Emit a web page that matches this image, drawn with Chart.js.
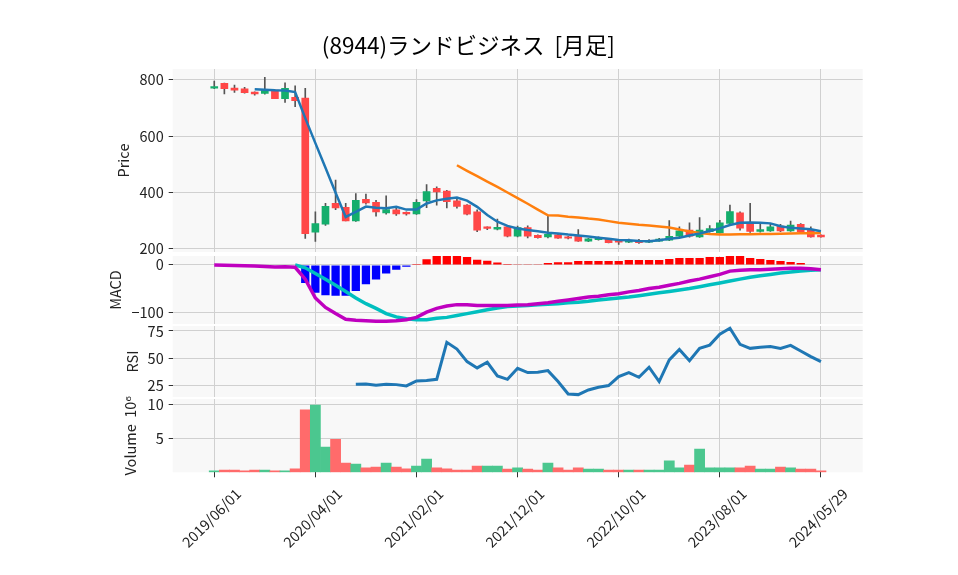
<!DOCTYPE html>
<html>
<head>
<meta charset="utf-8">
<script src="https://cdn.jsdelivr.net/npm/chart.js@4.4.1/dist/chart.umd.min.js"></script>
<style>
  body { margin: 0; background: #fff; }
  #wrap { position: relative; width: 958px; height: 575px; overflow: hidden; }
  canvas { position: absolute; left: 0; }
</style>
</head>
<body>
<div id="wrap">
  <canvas id="priceChart" width="958" height="262" style="top:0px"></canvas>
  <canvas id="macdChart" width="958" height="88" style="top:246px"></canvas>
  <canvas id="rsiChart" width="958" height="91" style="top:316px"></canvas>
  <canvas id="volumeChart" width="958" height="186" style="top:389px"></canvas>
</div>
<script>
const months = [
  '2019/06/01','2019/07/01','2019/08/01','2019/09/01','2019/10/01','2019/11/01','2019/12/01',
  '2020/01/01','2020/02/01','2020/03/01','2020/04/01','2020/05/01','2020/06/01','2020/07/01','2020/08/01','2020/09/01','2020/10/01','2020/11/01','2020/12/01',
  '2021/01/01','2021/02/01','2021/03/01','2021/04/01','2021/05/01','2021/06/01','2021/07/01','2021/08/01','2021/09/01','2021/10/01','2021/11/01','2021/12/01',
  '2022/01/01','2022/02/01','2022/03/01','2022/04/01','2022/05/01','2022/06/01','2022/07/01','2022/08/01','2022/09/01','2022/10/01','2022/11/01','2022/12/01',
  '2023/01/01','2023/02/01','2023/03/01','2023/04/01','2023/05/01','2023/06/01','2023/07/01','2023/08/01','2023/09/01','2023/10/01','2023/11/01','2023/12/01',
  '2024/01/01','2024/02/01','2024/03/01','2024/04/01','2024/05/01','2024/05/29'
];

const opens = [771,788,771,768,757,752,764,733,738,735,
  258,286,360,346,298,375,364,326,337,326,
  323,369,414,404,369,354,330,273,268,277,
  243,274,246,241,248,241,243,226,231,234,
  226,222,229,222,226,229,243,265,241,259,
  255,289,327,293,260,262,279,262,286,268,
  247];
const highs = [796,789,782,774,758,809,765,790,779,770,
  330,360,443,360,395,393,371,387,346,330,
  374,427,419,407,375,356,337,277,304,280,
  279,280,248,318,252,243,267,236,241,236,
  229,233,232,231,236,299,277,291,310,281,
  300,354,330,360,289,289,286,297,288,277,
  248];
const lows = [769,750,756,753,746,749,733,720,705,235,
  225,282,338,298,296,357,315,322,317,318,
  321,345,354,344,343,319,259,267,266,241,
  241,237,236,237,235,234,225,224,229,219,
  214,220,218,220,225,227,242,240,239,258,
  254,287,265,257,258,260,259,260,258,240,
  240];
const closes = [775,769,764,755,750,762,733,770,726,252,
  288,350,344,298,371,362,330,338,323,323,
  364,402,401,366,349,322,265,271,275,243,
  274,243,238,250,236,236,226,234,238,220,
  222,229,220,229,233,243,262,243,265,270,
  291,331,272,260,267,277,262,283,259,241,
  241];

const ma5 = [null,null,null,null,767,765,763,762,757,664,
  575,487,398,312,330,349,345,343,348,338,
  338,360,371,377,381,370,348,319,295,280,
  271,265,261,256,253,249,246,242,238,234,
  230,229,226,225,229,234,238,246,253,262,
  271,283,291,292,291,289,279,273,271,268,
  261];
const ma25 = [null,null,null,null,null,null,null,null,null,null,
  null,null,null,null,null,null,null,null,null,null,
  null,null,null,null,496,476,457,438,419,399,
  379,359,338,318,317,313,310,306,303,297,
  291,288,284,281,278,274,267,260,255,251,
  249,249,250,250,251,251,252,253,254,254,
  255];

const macdLine = [0,-0.5,-1,-1.5,-2,-3,-4.5,-4,-5,-30,
  -70,-90,-103,-115,-117,-118,-119,-119,-118,-116,
  -111,-100,-92,-87,-84,-84,-86,-86,-86,-86,
  -85,-84,-82,-80,-77,-74,-71,-68,-66,-63,
  -61,-57,-54,-50,-47,-43,-39,-34,-30,-25,
  -20,-13,-11,-10,-10,-9,-8,-7,-7,-8,
  -10];
const signalLine = [null,null,null,null,null,null,null,null,0,-6,
  -18,-30,-43,-56,-70,-82,-92,-103,-110,-114,
  -116,-116,-113,-111,-107,-103,-99,-95,-91,-88,
  -87,-86,-84,-83,-82,-80,-79,-77,-74,-72,
  -70,-68,-65,-62,-59,-56,-53,-50,-46,-42,
  -38,-34,-30,-26,-23,-20,-17,-15,-13,-11,
  -10];
const macdHist = [null,null,null,null,null,null,null,null,null,-38,
  -59,-64,-65,-65,-55,-41,-31,-18,-10,-4,
  2,12,19,21,19,17,11,9,5,2,
  1.5,1.5,1.5,4,6,6,8.5,8.5,8.5,8.5,
  8.5,10.5,10.5,10.5,10.5,12.5,15,15,15,17,
  17,21,19,15,12.5,10.5,8.5,6.5,4,1,
  0];

const rsi = [null,null,null,null,null,null,null,null,null,null,
  null,null,null,null,26,26.2,25,26,25.6,24.4,
  29,29.3,30.5,64.6,58.4,46.8,41,46.2,33.6,30.5,
  40.6,36.7,37,38.5,28.4,17,16.4,20.7,23.2,24.7,
  33,36.7,32.4,41.6,28.4,48.3,58,47.7,59,62,
  72,77.5,62.7,59,60,60.6,59,61.8,56.6,51.4,
  46.8];

// 出来高 (百万株)
const volume = [0.2,0.34,0.34,0.2,0.34,0.34,0.2,0.2,0.5,9.17,
  9.9,3.7,4.85,1.37,1.2,0.64,0.78,1.37,0.78,0.5,
  0.93,1.96,0.64,0.5,0.34,0.34,0.93,0.93,0.93,0.49,
  0.64,0.49,0.34,1.37,0.64,0.34,0.64,0.49,0.49,0.34,
  0.34,0.34,0.34,0.34,0.34,1.67,0.64,1.08,3.43,0.64,
  0.64,0.64,0.64,0.93,0.49,0.49,0.78,0.64,0.49,0.49,
  0.2];
const volumeUp = [1,0,0,0,0,1,0,1,0,0,
  1,1,0,0,1,0,0,1,0,0,
  1,1,0,0,0,0,0,1,1,0,
  1,0,0,1,0,0,0,1,1,0,
  0,1,0,1,1,1,1,0,1,1,
  1,1,0,0,1,1,0,1,0,0,
  0];

const xTicks = [0, 10, 20, 30, 40, 50, 60];
const priceTicks = [200, 400, 600, 800];
const macdTicks = [-100, 0];
const rsiTicks = [25, 50, 75];
const volumeTicks = [5, 10];

const FONT = "'Noto Sans CJK JP', 'DejaVu Sans', sans-serif";
const tickFont = { family: FONT, size: 14.5 };
const GRID = '#d0d0d0';
const TEXT = '#222';
const PLOT_LEFT = 172.7;
const X_MIN = -4.11, X_MAX = 64.13;
const UP = '#14ae6c', DOWN = '#ff4747';

Chart.defaults.font.family = FONT;
Chart.defaults.animation = false;

const plotBg = {
  id: 'plotBg',
  beforeDraw(chart) {
    const { ctx, chartArea: a } = chart;
    ctx.save();
    ctx.fillStyle = '#f8f8f8';
    ctx.fillRect(a.left, a.top, a.width, a.height);
    ctx.restore();
  }
};

function pts(arr) {
  const out = [];
  arr.forEach((v, i) => { if (v !== null) out.push({ x: i, y: v }); });
  return out;
}

function xAxis(showLabels) {
  return {
    type: 'linear', min: X_MIN, max: X_MAX, offset: false,
    afterBuildTicks: a => { a.ticks = xTicks.map(v => ({ value: v })); },
    afterFit: a => { a.height = showLabels ? 102.7 : 0; a.paddingLeft = 0; a.paddingRight = 0; },
    ticks: { display: showLabels, font: tickFont, color: TEXT, autoSkip: false,
      minRotation: 45, maxRotation: 45, padding: 7.7, labelOffset: 24, callback: v => months[v] },
    grid: { color: GRID, offset: false, drawTicks: showLabels, tickColor: '#333', tickLength: 5 },
    border: { display: false }
  };
}

function yAxis(min, max, ticks, title, titlePad, leftPad, fmt) {
  return {
    min: min, max: max,
    afterBuildTicks: a => { a.ticks = ticks.map(v => ({ value: v })); },
    afterFit: a => { a.width = PLOT_LEFT - leftPad; a.paddingTop = 0; a.paddingBottom = 0; },
    ticks: { font: tickFont, color: TEXT, padding: 5, callback: fmt || (v => String(v)) },
    grid: { color: GRID, tickColor: '#333', tickLength: 4 },
    border: { display: false },
    title: { display: true, text: title, font: tickFont, color: TEXT, padding: { top: titlePad, bottom: 0 } }
  };
}

const noPlugins = { legend: { display: false }, tooltip: { enabled: false } };
const RIGHT_PAD = 958 - 862.7;
const TITLE_SHIFT = 74;

// ローソク足 + 移動平均
new Chart(document.getElementById('priceChart'), {
  type: 'bar',
  data: {
    datasets: [
      { type: 'line', data: pts(ma5), borderColor: '#1f77b4', borderWidth: 2.5, pointRadius: 0, order: 0 },
      { type: 'line', data: pts(ma25), borderColor: '#ff7f0e', borderWidth: 2.5, pointRadius: 0, order: 0 },
      { data: opens.map((o, i) => ({ x: i, y: [o, closes[i]] })),
        backgroundColor: opens.map((o, i) => closes[i] >= o ? UP : DOWN),
        barThickness: 7, minBarLength: 1.5, grouped: false, order: 1 },
      { data: lows.map((l, i) => ({ x: i, y: [l, highs[i]] })),
        backgroundColor: '#555', barThickness: 1, grouped: false, order: 2 }
    ]
  },
  options: {
    responsive: false,
    layout: { padding: { left: TITLE_SHIFT, right: RIGHT_PAD, top: 0, bottom: 10 } },
    scales: { x: xAxis(false), y: yAxis(187, 839, priceTicks, 'Price', 123 - TITLE_SHIFT - 8.7, TITLE_SHIFT) },
    plugins: {
      legend: { display: false }, tooltip: { enabled: false },
      title: { display: true, text: '(8944)ランドビジネス  [月足]', color: '#000',
        font: { family: FONT, size: 22.5, weight: 'normal' }, padding: { top: 31.5, bottom: 10.5 } }
    }
  },
  plugins: [plotBg]
});

// MACD
const histPts = pts(macdHist);
new Chart(document.getElementById('macdChart'), {
  type: 'bar',
  data: {
    datasets: [
      { type: 'line', data: pts(macdLine), borderColor: '#bf00bf', borderWidth: 3.5, pointRadius: 0, order: 0 },
      { type: 'line', data: pts(signalLine), borderColor: '#00bfbf', borderWidth: 3.5, pointRadius: 0, order: 0 },
      { data: histPts, backgroundColor: histPts.map(p => p.y < 0 ? '#0000ff' : '#ff0000'),
        barPercentage: 0.82, categoryPercentage: 1, grouped: false, order: 1 }
    ]
  },
  options: {
    responsive: false,
    layout: { padding: { left: 0, right: RIGHT_PAD, top: 10, bottom: 10 } },
    scales: { x: xAxis(false), y: yAxis(-125, 19, macdTicks, 'MACD', 115 - 8.7, 0, v => v < 0 ? '\u2212' + Math.abs(v) : String(v)) },
    plugins: noPlugins
  },
  plugins: [plotBg]
});

// RSI
new Chart(document.getElementById('rsiChart'), {
  type: 'line',
  data: {
    datasets: [
      { data: pts(rsi), borderColor: '#1f77b4', borderWidth: 3, pointRadius: 0 }
    ]
  },
  options: {
    responsive: false,
    layout: { padding: { left: 0, right: RIGHT_PAD, top: 10, bottom: 10 } },
    scales: { x: xAxis(false), y: yAxis(14.2, 79.6, rsiTicks, 'RSI', 132 - 8.7, 0) },
    plugins: noPlugins
  },
  plugins: [plotBg]
});

// 出来高
new Chart(document.getElementById('volumeChart'), {
  type: 'bar',
  data: {
    datasets: [
      { data: pts(volume), backgroundColor: volumeUp.map(u => u ? '#4bc78f' : '#ff6b6b'),
        barPercentage: 1, categoryPercentage: 1, grouped: false }
    ]
  },
  options: {
    responsive: false,
    layout: { padding: { left: 0, right: RIGHT_PAD, top: 10, bottom: 0 } },
    scales: { x: xAxis(true), y: yAxis(0, 10.78, volumeTicks, 'Volume  10\u2076', 130 - 8.7, 0) },
    plugins: noPlugins
  },
  plugins: [plotBg]
});
</script>
</body>
</html>
